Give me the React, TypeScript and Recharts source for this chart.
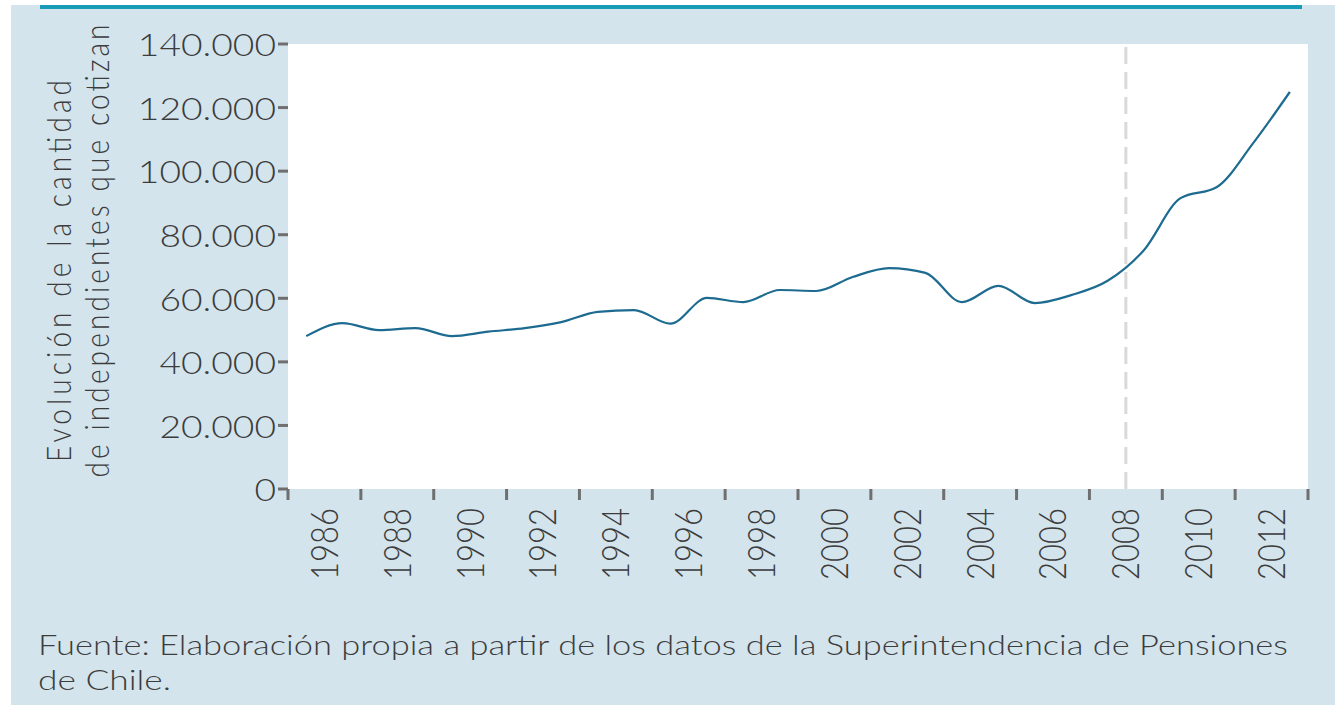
import { LineChart, Line, XAxis, YAxis, CartesianGrid, ReferenceLine } from 'recharts';

// cotizantes independientes por año
const years = [
  1986, 1987, 1988, 1989, 1990, 1991, 1992, 1993, 1994, 1995, 1996, 1997, 1998, 1999,
  2000, 2001, 2002, 2003, 2004, 2005, 2006, 2007, 2008, 2009, 2010, 2011, 2012, 2013,
];
const cotizantes = [
  48100, 52200, 50000, 50600, 48100, 49500, 50600, 52500, 55700, 56300, 52000, 60100, 58800, 62600,
  62300, 66700, 69500, 68000, 58800, 63900, 58500, 61000, 65500, 75200, 91500, 95000, 108900, 124900,
];
const yTicks = [0, 20000, 40000, 60000, 80000, 100000, 120000, 140000];
const tickYears = [1985, 1986, 1987, 1988, 1989, 1990, 1991, 1992, 1993, 1994, 1995, 1996, 1997, 1998, 1999,
  2000, 2001, 2002, 2003, 2004, 2005, 2006, 2007, 2008, 2009, 2010, 2011, 2012, 2013];
const markYear = 2008;

// each yearly point sits in the middle of its own year band
const data = years.map((y, i) => ({ x: y - 0.5, value: cotizantes[i] }));

const FONT = 'Lato, "Open Sans", sans-serif';
const TEXT = '#3c3c3c';
const TICK = '#6f6f6f';

const fmt = (v: number) => v === 0 ? '0' : v.toLocaleString('de-DE');

function YTick({ x, y, payload }: any) {
  return (
    <g transform={`translate(${x},${y})`}>
      <text transform="scale(1.2,1)" textAnchor="end" dominantBaseline="central"
        fontFamily={FONT} fontSize={31} fontWeight={300} fill={TEXT}>{fmt(payload.value)}</text>
    </g>
  );
}

function XTick({ x, y, payload }: any) {
  const yr = payload.value;
  if (yr % 2 === 1) {
    return <line x1={x} x2={x} y1={y} y2={y + 11} stroke={TICK} strokeWidth={3} />;
  }
  return (
    <g transform={`translate(${x},${y + 19}) scale(1.2,1) rotate(-90)`}>
      <text textAnchor="end" dy="0.36em" fontFamily={FONT} fontSize={31} fontWeight={300} fill={TEXT}>{yr}</text>
    </g>
  );
}

export default function App() {
  return (
    <div style={{ position: 'absolute', left: 0, top: 0, width: 1335, height: 705, background: '#fff', overflow: 'hidden' }}>
      <div style={{ position: 'absolute', left: 11, top: 5, right: 0, bottom: 0, background: '#d3e4ed' }} />
      <div style={{ position: 'absolute', left: 40, top: 5, width: 1262, height: 4, background: '#189bb7' }} />
      <div style={{ position: 'absolute', left: 0, top: 0 }}>
        <LineChart width={1335} height={600} data={data} margin={{ top: 44, right: 27, bottom: 0, left: 0 }}>
          <CartesianGrid horizontal={false} vertical={false} fill="#ffffff" />
          <XAxis dataKey="x" type="number" domain={[1985, 2013]} ticks={tickYears} interval={0}
            axisLine={false} tickLine={false} tickSize={0} tickMargin={0} height={111} tick={<XTick />} />
          <YAxis domain={[0, 140000]} ticks={yTicks} interval={0} width={288} axisLine={false}
            tickSize={10} tickLine={{ stroke: TICK, strokeWidth: 3 }} tick={<YTick />} />
          <ReferenceLine x={markYear} stroke="#d9d9d9" strokeWidth={3} strokeDasharray="17 8" />
          <Line type="monotone" dataKey="value" stroke="#1d6b90" strokeWidth={2.2} dot={false} isAnimationActive={false} />
        </LineChart>
      </div>
      <svg width={1335} height={705} style={{ position: 'absolute', left: 0, top: 0, pointerEvents: 'none' }}>
        <g transform="translate(59,271) scale(1.2,1) rotate(-90)">
          <text textAnchor="middle" dy="0.36em" fontFamily={FONT} fontSize={28} fontWeight={300} fill={TEXT}
            textLength={382} lengthAdjust="spacing">Evolución de la cantidad</text>
        </g>
        <g transform="translate(97,251) scale(1.2,1) rotate(-90)">
          <text textAnchor="middle" dy="0.36em" fontFamily={FONT} fontSize={28} fontWeight={300} fill={TEXT}
            textLength={453} lengthAdjust="spacing">de independientes que cotizan</text>
        </g>
        <text x={38} y={655} fontFamily={FONT} fontSize={28} fontWeight={300} fill={TEXT} textLength={1250}
          lengthAdjust="spacingAndGlyphs">Fuente: Elaboración propia a partir de los datos de la Superintendencia de Pensiones</text>
        <text x={38} y={690} fontFamily={FONT} fontSize={28} fontWeight={300} fill={TEXT} textLength={133}
          lengthAdjust="spacingAndGlyphs">de Chile.</text>
      </svg>
    </div>
  );
}
